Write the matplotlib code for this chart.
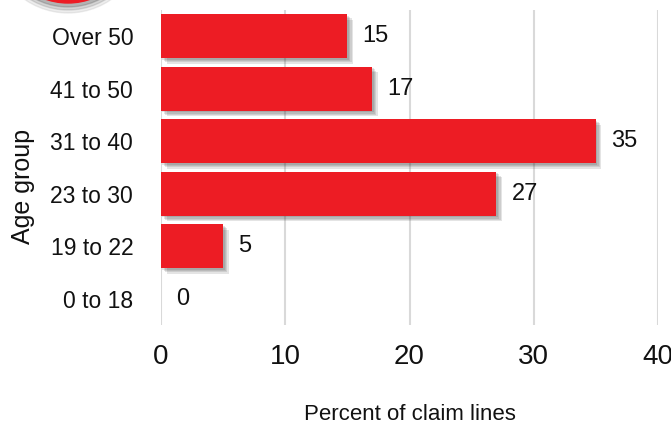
import matplotlib.pyplot as plt
import matplotlib.patheffects as pe
from matplotlib.patches import Ellipse

age_groups = ["0 to 18", "19 to 22", "23 to 30", "31 to 40", "41 to 50", "Over 50"]
percent = [0, 5, 27, 35, 17, 15]
x_ticks = [0, 10, 20, 30, 40]

plt.rcParams['font.family'] = ['Liberation Sans', 'DejaVu Sans']

W, H = 671, 428
fig = plt.figure(figsize=(W / 100, H / 100), dpi=100)
ax = fig.add_axes([161 / W, 1 - 325 / H, (658 - 161) / W, (325 - 10) / H])

red = "#ed1c24"
# soft drop shadow, bottom-right
shadow = [pe.SimplePatchShadow(offset=(d, -d), shadow_rgbFace="#333333", alpha=0.13)
          for d in (1, 2, 3, 4)] + [pe.Normal()]
bars = ax.barh(range(len(age_groups)), percent, height=0.84, color=red, zorder=3)
for b in bars:
    b.set_path_effects(shadow)

for i, v in enumerate(percent):
    ax.text(v + 1.2, i, str(v), va="center", ha="left", fontsize=17, color="#111111")

ax.set_xlim(0, 40)
ax.set_ylim(-0.5, len(age_groups) - 0.5)
ax.set_xticks(x_ticks)
ax.set_xticklabels([str(t) for t in x_ticks], fontsize=20)
ax.set_yticks(range(len(age_groups)))
ax.set_yticklabels(age_groups, fontsize=16.5)
ax.tick_params(axis="both", length=0, colors="#111111")
ax.tick_params(axis="x", pad=14)
ax.tick_params(axis="y", pad=20)
ax.grid(axis="x", color="#d9d9d9", linewidth=1.5, zorder=0)
for s in ax.spines.values():
    s.set_visible(False)

ax.set_xlabel("Percent of claim lines", fontsize=16, color="#111111")
ax.xaxis.set_label_coords(0.501, -0.252)
ax.set_ylabel("Age group", fontsize=18, color="#111111")
ax.yaxis.set_label_coords(-0.254, 0.44)

# decorative red circle peeking at top-left
for r, a in ((76, 0.08), (73, 0.12), (70, 0.18)):
    fig.patches.append(Ellipse((68 / W, 1 + 63 / H), 2 * r / W, 2 * r / H,
                               transform=fig.transFigure, color="#222222", alpha=a, zorder=0))
fig.patches.append(Ellipse((68 / W, 1 + 65 / H), 2 * 68 / W, 2 * 68 / H,
                           transform=fig.transFigure, color=red, zorder=1))

fig.savefig("out.png", dpi=100)
